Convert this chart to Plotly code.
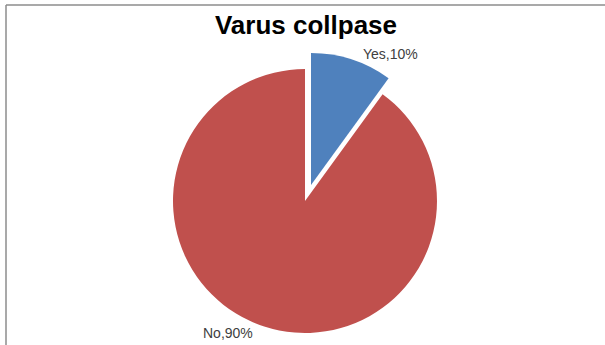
import plotly.graph_objects as go

# Data
labels = ["Yes", "No"]
values = [10, 90]
colors = ["#4F81BD", "#C0504D"]
chart_title = "Varus collpase"

W, H = 605, 345

# Pie geometry in pixels (top-left origin)
cx, cy, r = 305, 201, 132
pull_dx, pull_dy = 6, -16  # offset of the exploded "Yes" slice


def dom(cx_, cy_):
    x0, x1 = (cx_ - r) / W, (cx_ + r) / W
    y0, y1 = (H - (cy_ + r)) / H, (H - (cy_ - r)) / H
    return dict(x=[x0, x1], y=[y0, y1])


total = sum(values)
pct = [v / total * 100 for v in values]

fig = go.Figure()

# "No" slice (Yes slice left transparent)
fig.add_trace(go.Pie(
    labels=labels, values=values, sort=False, direction="clockwise", rotation=0,
    marker=dict(colors=["rgba(0,0,0,0)", colors[1]], line=dict(width=0)),
    textinfo="none", hoverinfo="label+percent", showlegend=False,
    domain=dom(cx, cy),
))
# Exploded "Yes" slice (No slice left transparent)
fig.add_trace(go.Pie(
    labels=labels, values=values, sort=False, direction="clockwise", rotation=0,
    marker=dict(colors=[colors[0], "rgba(0,0,0,0)"], line=dict(width=0)),
    textinfo="none", hoverinfo="label+percent", showlegend=False,
    domain=dom(cx + pull_dx, cy + pull_dy),
))

label_font = dict(family="Liberation Sans, Arial, sans-serif", size=14, color="#404040")
annotations = [
    dict(x=390 / W, y=1 - 54 / H, xref="paper", yref="paper", xanchor="center", yanchor="middle",
         text=f"{labels[0]},{pct[0]:.0f}%", showarrow=False, font=label_font),
    dict(x=228 / W, y=1 - 333 / H, xref="paper", yref="paper", xanchor="center", yanchor="middle",
         text=f"{labels[1]},{pct[1]:.0f}%", showarrow=False, font=label_font),
]

border = dict(color="#8C8C8C", width=1.5)
shapes = [
    dict(type="line", xref="paper", yref="paper", x0=6 / W, x1=1, y0=1 - 5 / H, y1=1 - 5 / H, line=border),
    dict(type="line", xref="paper", yref="paper", x0=6 / W, x1=6 / W, y0=0, y1=1 - 5 / H, line=border),
]

fig.update_layout(
    width=W, height=H,
    margin=dict(l=0, r=0, t=0, b=0),
    paper_bgcolor="white", plot_bgcolor="white",
    title=dict(text=f"<b>{chart_title}</b>", x=306 / W, xanchor="center",
               y=1 - 25 / H, yanchor="middle",
               font=dict(family="Liberation Sans, Arial, sans-serif", size=26, color="#000000")),
    annotations=annotations,
    shapes=shapes,
)

fig.write_html("out.html")
